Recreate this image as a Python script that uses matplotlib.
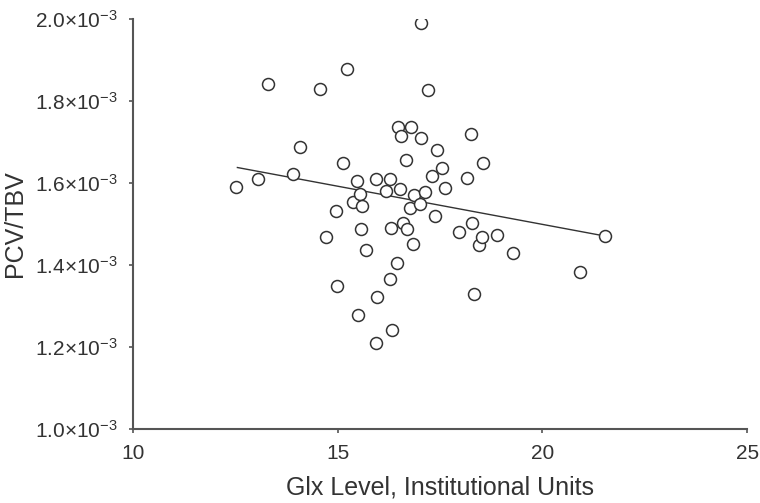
import matplotlib
matplotlib.use('Agg')
import matplotlib.pyplot as plt
from matplotlib.ticker import FixedLocator, FuncFormatter

# Glx level (institutional units) and PCV/TBV ratio
glx = [12.52, 13.06, 13.30, 13.91, 14.08, 14.57, 14.72, 14.96, 14.99, 15.13,
       15.23, 15.48, 15.38, 15.55, 15.60, 15.57, 15.70, 15.50, 15.97, 15.94,
       15.94, 16.19, 16.28, 16.28, 16.33, 16.31, 16.45, 16.53, 16.48, 16.80,
       16.55, 16.67, 16.60, 16.70, 16.77, 16.87, 16.85, 17.04, 17.04, 17.02,
       17.14, 17.21, 17.31, 17.43, 17.38, 17.55, 17.63, 18.26, 17.97, 18.17,
       18.29, 18.34, 18.46, 18.53, 18.56, 18.90, 19.27, 20.93, 21.52]
pcv_tbv = [1.590, 1.610, 1.841, 1.622, 1.688, 1.829, 1.468, 1.532, 1.349, 1.649,
           1.878, 1.605, 1.554, 1.573, 1.544, 1.488, 1.437, 1.278, 1.322, 1.210,
           1.610, 1.580, 1.610, 1.366, 1.241, 1.490, 1.405, 1.585, 1.737, 1.737,
           1.715, 1.656, 1.502, 1.488, 1.539, 1.571, 1.451, 1.990, 1.710, 1.549,
           1.578, 1.827, 1.617, 1.680, 1.520, 1.637, 1.588, 1.720, 1.480, 1.612,
           1.502, 1.329, 1.449, 1.468, 1.649, 1.473, 1.429, 1.383, 1.471]
pcv_tbv = [v * 1e-3 for v in pcv_tbv]

# regression line end points
fit_x = [12.55, 21.52]
fit_y = [1.638e-3, 1.471e-3]

x_ticks = [10, 15, 20, 25]
y_ticks = [1.0e-3, 1.2e-3, 1.4e-3, 1.6e-3, 1.8e-3, 2.0e-3]

plt.rcParams['font.family'] = ['Liberation Sans', 'DejaVu Sans']
plt.rcParams['mathtext.fontset'] = 'custom'
plt.rcParams['mathtext.rm'] = 'Liberation Sans'
plt.rcParams['mathtext.it'] = 'Liberation Sans'

TXT = '#333333'
AX = '#555555'

fig = plt.figure(figsize=(7.6, 5.03), dpi=100)
ax = fig.add_axes([0.175, 0.147, 0.808, 0.815])

ax.plot(fit_x, fit_y, color='#333333', linewidth=1.0, zorder=2)
ax.plot(glx, pcv_tbv, linestyle='none', marker='o', markersize=8.6,
        markerfacecolor='white', markeredgecolor='#333333',
        markeredgewidth=1.1, zorder=3)

ax.set_xlim(10, 25)
ax.set_ylim(1.0e-3, 2.0e-3)
ax.xaxis.set_major_locator(FixedLocator(x_ticks))
ax.yaxis.set_major_locator(FixedLocator(y_ticks))
ax.yaxis.set_major_formatter(FuncFormatter(
    lambda v, p: r'%.1f$\times$10$^{-3}$' % (v * 1e3)))

for side in ('top', 'right'):
    ax.spines[side].set_visible(False)
for side in ('left', 'bottom'):
    ax.spines[side].set_color(AX)
    ax.spines[side].set_linewidth(1.5)

ax.tick_params(axis='both', direction='out', length=3, width=1.2, color=AX,
               labelsize=15, labelcolor=TXT)
ax.tick_params(axis='y', pad=8)
ax.tick_params(axis='x', pad=8)

ax.set_xlabel('Glx Level, Institutional Units', fontsize=18, color=TXT, labelpad=9)
ax.set_ylabel('PCV/TBV', fontsize=18, color=TXT, labelpad=6)

fig.savefig('out.png', dpi=100)
